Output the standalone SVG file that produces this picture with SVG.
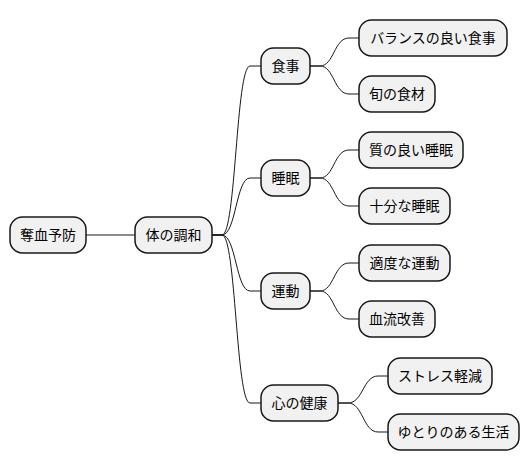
<svg xmlns="http://www.w3.org/2000/svg" width="530" height="471" viewBox="0 0 530 471">
<style>
.n rect{fill:#F1F1F1;stroke:#181818;stroke-width:1.5}
.n text{font-family:"Noto Sans CJK JP","Noto Sans",sans-serif;font-size:14px;fill:#000;text-anchor:middle}
#edges path{fill:none;stroke:#181818;stroke-width:1}
</style>
<rect width="530" height="471" fill="#FFFFFF"/>
<g id="edges">
<path d="M86,235 L135,235"/>
<path d="M212,235 L222,235 C236,235 236,66 250,66 L261,66"/>
<path d="M212,235 L222,235 C236,235 236,178 250,178 L261,178"/>
<path d="M212,235 L222,235 C236,235 236,291 250,291 L261,291"/>
<path d="M212,235 L222,235 C236,235 236,403 250,403 L261,403"/>
<path d="M310,66 L320,66 C334,66 334,38 349,38 L359,38"/>
<path d="M310,66 L320,66 C334,66 334,94 349,94 L359,94"/>
<path d="M310,178 L320,178 C334,178 334,150 349,150 L359,150"/>
<path d="M310,178 L320,178 C334,178 334,206 349,206 L359,206"/>
<path d="M310,291 L320,291 C334,291 334,263 349,263 L359,263"/>
<path d="M310,291 L320,291 C334,291 334,319 349,319 L359,319"/>
<path d="M338,403 L348,403 C363,403 363,376 378,376 L388,376"/>
<path d="M338,403 L348,403 C363,403 363,432 378,432 L388,432"/>
</g>
<g id="root" class="n"><rect x="10" y="217" width="76" height="36" rx="12.5"/><text x="48" y="240">奪血予防</text></g>
<g id="harmony" class="n"><rect x="135" y="217" width="77" height="36" rx="12.5"/><text x="173.5" y="240">体の調和</text></g>
<g id="food" class="n"><rect x="261" y="48" width="49" height="36" rx="12.5"/><text x="285.5" y="71">食事</text></g>
<g id="sleep" class="n"><rect x="261" y="160" width="49" height="36" rx="12.5"/><text x="285.5" y="183">睡眠</text></g>
<g id="exercise" class="n"><rect x="261" y="273" width="49" height="36" rx="12.5"/><text x="285.5" y="296">運動</text></g>
<g id="mind" class="n"><rect x="261" y="385" width="77" height="36" rx="12.5"/><text x="299.5" y="408">心の健康</text></g>
<g id="balance" class="n"><rect x="359" y="20" width="148" height="36" rx="12.5"/><text x="433" y="43">バランスの良い食事</text></g>
<g id="season" class="n"><rect x="359" y="76" width="76" height="36" rx="12.5"/><text x="397" y="99">旬の食材</text></g>
<g id="quality" class="n"><rect x="359" y="132" width="104" height="36" rx="12.5"/><text x="411" y="155">質の良い睡眠</text></g>
<g id="enough" class="n"><rect x="359" y="188" width="91" height="36" rx="12.5"/><text x="404.5" y="211">十分な睡眠</text></g>
<g id="moderate" class="n"><rect x="359" y="245" width="91" height="36" rx="12.5"/><text x="404.5" y="268">適度な運動</text></g>
<g id="blood" class="n"><rect x="359" y="301" width="76" height="36" rx="12.5"/><text x="397" y="324">血流改善</text></g>
<g id="stress" class="n"><rect x="388" y="358" width="104" height="36" rx="12.5"/><text x="440" y="381">ストレス軽減</text></g>
<g id="relax" class="n"><rect x="388" y="414" width="131" height="36" rx="12.5"/><text x="453.5" y="437">ゆとりのある生活</text></g>
</svg>
